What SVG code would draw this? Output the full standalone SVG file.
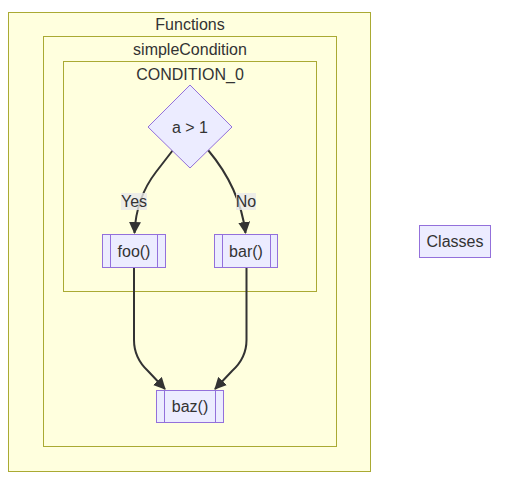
<svg xmlns="http://www.w3.org/2000/svg" width="506" height="485" viewBox="0 0 506 485">
<style>
.cluster{fill:#ffffde;stroke:#aaaa33;stroke-width:1}
.node{fill:#ECECFF;stroke:#9370DB;stroke-width:1}
.lbl{font-family:"Liberation Sans",Arial,sans-serif;font-size:16px;fill:#333;text-anchor:middle}
.edge{fill:none;stroke:#333;stroke-width:2}
.elbg{fill:#e8e8e8;opacity:0.8}
</style>
<defs>
<marker id="ah" viewBox="0 0 12 12" refX="11" refY="6" markerWidth="12" markerHeight="12" markerUnits="userSpaceOnUse" orient="auto">
<path d="M0,0 L12,6 L0,12 z" fill="#333"/>
</marker>
</defs>
<g id="Functions">
<rect class="cluster" x="8.5" y="12.5" width="362" height="459"/>
<text class="lbl" x="190" y="30">Functions</text>
</g>
<g id="simpleCondition">
<rect class="cluster" x="43.5" y="36.5" width="293" height="410"/>
<text class="lbl" x="190" y="55">simpleCondition</text>
</g>
<g id="CONDITION_0">
<rect class="cluster" x="63.5" y="61.5" width="253" height="230"/>
<text class="lbl" x="190" y="80">CONDITION_0</text>
</g>
<g id="connectors">
<path class="edge" d="M173,150 L156,172 Q136,198 134.5,233" marker-end="url(#ah)"/>
<path class="edge" d="M208,150 Q240,188 245.5,233" marker-end="url(#ah)"/>
<path class="edge" d="M134,268 L134,340 Q134,358 148,371 L165,389" marker-end="url(#ah)"/>
<path class="edge" d="M246.5,268 L246.5,340 Q246.5,358 232,371 L215,389" marker-end="url(#ah)"/>
<rect class="elbg" x="121" y="193" width="26" height="17"/>
<text class="lbl" x="134" y="207">Yes</text>
<rect class="elbg" x="236" y="193" width="20" height="17"/>
<text class="lbl" x="246" y="207">No</text>
</g>
<g id="decision">
<polygon class="node" points="190,85 232,127 190,168 148,127"/>
<text class="lbl" x="190" y="133">a &gt; 1</text>
</g>
<g id="foo">
<rect class="node" x="102.5" y="234.5" width="63" height="33"/>
<line class="node" x1="110.5" y1="234.5" x2="110.5" y2="267.5"/>
<line class="node" x1="157.5" y1="234.5" x2="157.5" y2="267.5"/>
<text class="lbl" x="134" y="257">foo()</text>
</g>
<g id="bar">
<rect class="node" x="214.5" y="234.5" width="63" height="33"/>
<line class="node" x1="222.5" y1="234.5" x2="222.5" y2="267.5"/>
<line class="node" x1="270.5" y1="234.5" x2="270.5" y2="267.5"/>
<text class="lbl" x="246" y="257">bar()</text>
</g>
<g id="baz">
<rect class="node" x="156.5" y="390.5" width="67" height="32"/>
<line class="node" x1="164.5" y1="390.5" x2="164.5" y2="422.5"/>
<line class="node" x1="215.5" y1="390.5" x2="215.5" y2="422.5"/>
<text class="lbl" x="190" y="412">baz()</text>
</g>
<g id="Classes">
<rect class="node" x="419.5" y="225.5" width="71" height="32"/>
<text class="lbl" x="455" y="247">Classes</text>
</g>
</svg>
